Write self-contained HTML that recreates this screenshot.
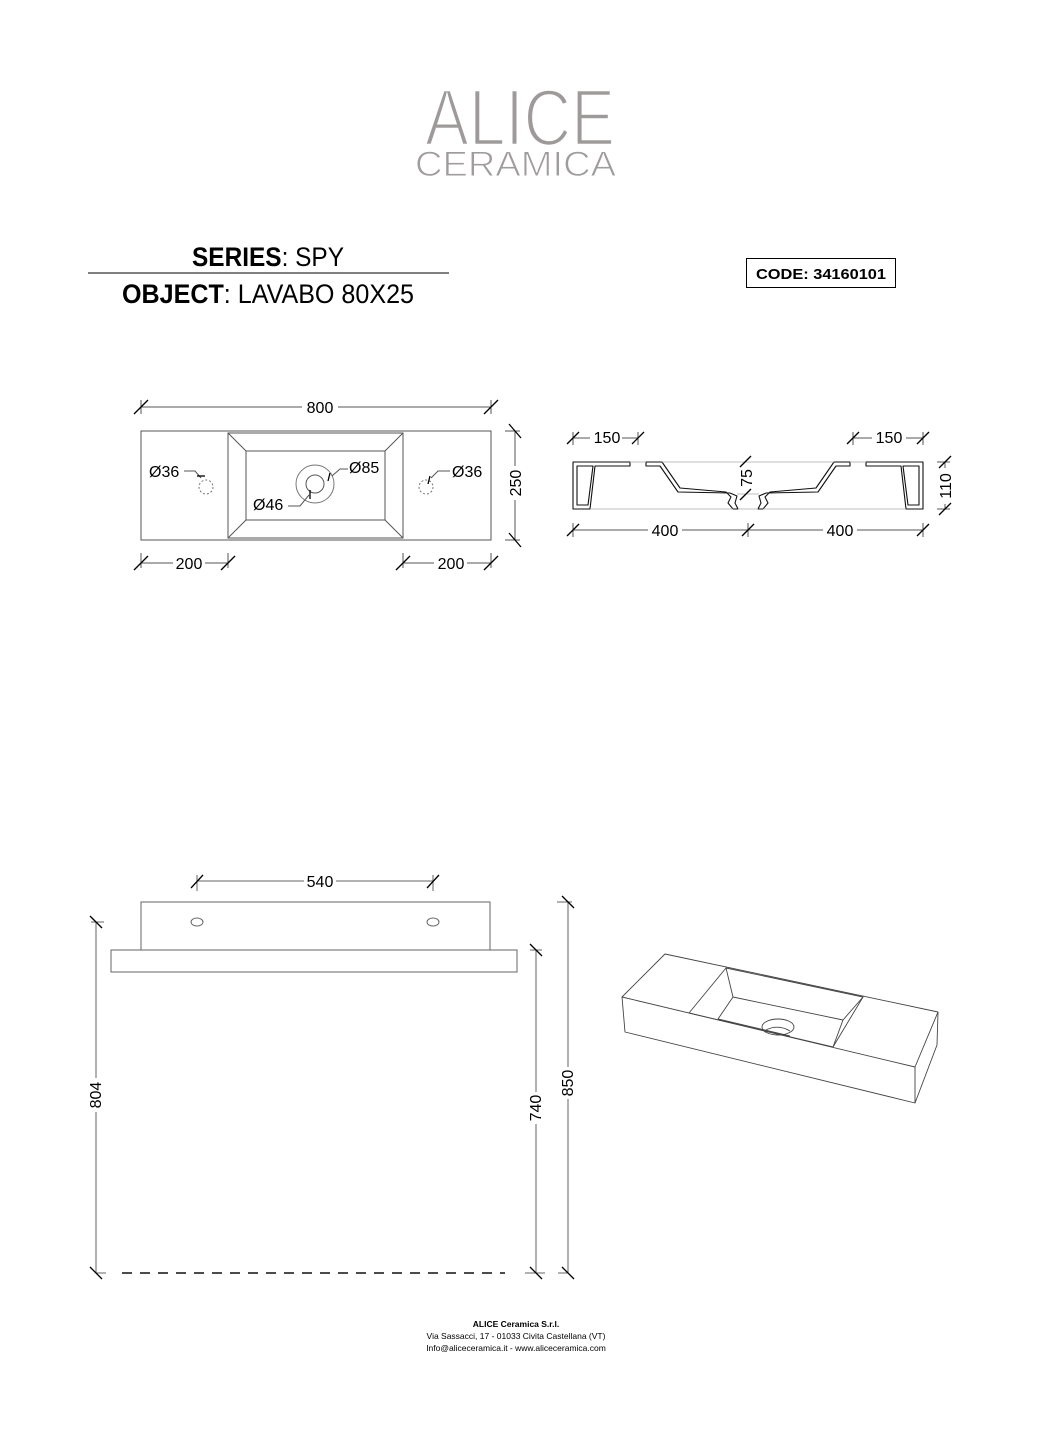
<!DOCTYPE html>
<html><head><meta charset="utf-8"><style>
html,body{margin:0;padding:0;background:#fff;}
svg{display:block;}
text{font-family:"Liberation Sans",sans-serif;}
</style></head><body>
<svg width="1040" height="1440" viewBox="0 0 1040 1440" xmlns="http://www.w3.org/2000/svg">
<text x="425" y="145" font-size="80" fill="#9e9a9a" textLength="190" lengthAdjust="spacingAndGlyphs" stroke="#fff" stroke-width="2.6">ALICE</text>
<text x="415" y="176" font-size="35" fill="#a09c9c" textLength="201" lengthAdjust="spacingAndGlyphs" stroke="#fff" stroke-width="1">CERAMICA</text>

<text x="268" y="266" font-size="27" text-anchor="middle" fill="#000" textLength="152" lengthAdjust="spacingAndGlyphs"><tspan font-weight="bold">SERIES</tspan>: SPY</text>
<line x1="88" y1="273" x2="449" y2="273" stroke="#000" stroke-width="1"/>
<text x="268" y="303" font-size="27" text-anchor="middle" fill="#000" textLength="292" lengthAdjust="spacingAndGlyphs"><tspan font-weight="bold">OBJECT</tspan>: LAVABO 80X25</text>
<rect x="746.5" y="258.5" width="149" height="29" fill="none" stroke="#000" stroke-width="1"/>
<text x="821" y="279" font-size="15" font-weight="bold" text-anchor="middle" textLength="130" lengthAdjust="spacingAndGlyphs">CODE: 34160101</text>

<g stroke="#555" stroke-width="1" fill="none">
<rect x="141" y="431" width="350" height="109"/>
<rect x="228" y="433" width="175" height="105"/>
<rect x="246" y="451" width="139" height="69"/>
<line x1="228" y1="433" x2="246" y2="451"/><line x1="403" y1="433" x2="385" y2="451"/>
<line x1="228" y1="538" x2="246" y2="520"/><line x1="403" y1="538" x2="385" y2="520"/>
<circle cx="315" cy="484" r="19" stroke="#777"/><circle cx="315" cy="484" r="9"/>
<circle cx="206" cy="487" r="7" stroke-dasharray="2,2" stroke="#777"/>
<circle cx="426" cy="487" r="7" stroke-dasharray="2,2" stroke="#777"/>
<line x1="141" y1="407" x2="302" y2="407"/><line x1="338" y1="407" x2="491" y2="407"/>
<line x1="141" y1="400" x2="141" y2="414"/><line x1="491" y1="400" x2="491" y2="414"/>
<line x1="515" y1="431" x2="515" y2="466"/><line x1="515" y1="500" x2="515" y2="540"/>
<line x1="505" y1="431" x2="520" y2="431"/><line x1="505" y1="540" x2="520" y2="540"/>
<line x1="141" y1="563" x2="173" y2="563"/><line x1="205" y1="563" x2="228" y2="563"/>
<line x1="141" y1="553" x2="141" y2="568"/><line x1="228" y1="553" x2="228" y2="568"/>
<line x1="403" y1="563" x2="434" y2="563"/><line x1="467" y1="563" x2="491" y2="563"/>
<line x1="403" y1="553" x2="403" y2="568"/><line x1="491" y1="553" x2="491" y2="568"/>
<polyline points="184,471 195,471 201,478"/>
<polyline points="288,506 300,506 309,495"/>
<polyline points="348,469 340,469 332,476"/>
<polyline points="450,471 438,471 431,478"/>
</g>
<g stroke="#000" stroke-width="1.3">
<line x1="134" y1="414" x2="148" y2="400"/><line x1="484" y1="414" x2="498" y2="400"/>
<line x1="509" y1="424" x2="521" y2="438"/><line x1="509" y1="533" x2="521" y2="547"/>
<line x1="134" y1="570" x2="148" y2="556"/><line x1="221" y1="570" x2="235" y2="556"/>
<line x1="396" y1="570" x2="410" y2="556"/><line x1="484" y1="570" x2="498" y2="556"/>
<line x1="197" y1="476" x2="205" y2="476"/>
<line x1="310" y1="490" x2="310" y2="499"/>
<line x1="330" y1="473" x2="328" y2="481"/>
<line x1="430" y1="476" x2="428" y2="484"/>
</g>
<g font-size="16" fill="#000">
<text x="320" y="413" text-anchor="middle">800</text>
<text x="521" y="483" text-anchor="middle" transform="rotate(-90 521 483)">250</text>
<text x="189" y="569" text-anchor="middle">200</text>
<text x="451" y="569" text-anchor="middle">200</text>
<text x="149" y="477">Ø36</text>
<text x="452" y="477">Ø36</text>
<text x="349" y="473">Ø85</text>
<text x="253" y="510">Ø46</text>
</g>

<g stroke="#111" stroke-width="1.1" fill="none" stroke-linejoin="round">
<path d="M573,462 L630,462 L630,466 L595,466 L590,509 L573,509 Z"/>
<path d="M577,466 L593,466 L588,505 L577,505 Z"/>
<path d="M923,462 L866,462 L866,466 L901,466 L906,509 L923,509 Z"/>
<path d="M919,466 L903,466 L908,505 L919,505 Z"/>
<path d="M646,462 L662,462 L680,488 L726,492 L731,497 L728,503 L733,509 L738,509 L735,503 L737,496 L730,493 L678,492 L660,466 L646,466 Z"/>
<path d="M850,462 L834,462 L816,488 L770,492 L765,497 L768,503 L763,509 L758,509 L761,503 L759,496 L766,493 L818,492 L836,466 L850,466 Z"/>
</g>
<g stroke="#aaa" stroke-width="0.8">
<line x1="630" y1="462" x2="646" y2="462"/><line x1="850" y1="462" x2="866" y2="462"/>
<line x1="738" y1="509" x2="758" y2="509"/>
<line x1="737" y1="494" x2="759" y2="494"/>
<line x1="662" y1="462" x2="834" y2="462"/>
<line x1="590" y1="509" x2="733" y2="509"/><line x1="763" y1="509" x2="906" y2="509"/>
</g>
<g stroke="#555" stroke-width="1" fill="none">
<line x1="573" y1="438" x2="590" y2="438"/><line x1="622" y1="438" x2="638" y2="438"/>
<line x1="573" y1="432" x2="573" y2="445"/><line x1="638" y1="432" x2="638" y2="445"/>
<line x1="853" y1="438" x2="872" y2="438"/><line x1="906" y1="438" x2="923" y2="438"/>
<line x1="853" y1="432" x2="853" y2="445"/><line x1="923" y1="432" x2="923" y2="445"/>
<line x1="573" y1="530" x2="648" y2="530"/><line x1="682" y1="530" x2="823" y2="530"/><line x1="857" y1="530" x2="923" y2="530"/>
<line x1="573" y1="523" x2="573" y2="537"/><line x1="748" y1="523" x2="748" y2="537"/><line x1="923" y1="523" x2="923" y2="537"/>
<line x1="945" y1="462" x2="945" y2="468"/><line x1="945" y1="504" x2="945" y2="509"/>
<line x1="937" y1="462" x2="950" y2="462"/><line x1="937" y1="509" x2="950" y2="509"/>
</g>
<g stroke="#000" stroke-width="1.3">
<line x1="567" y1="444" x2="579" y2="432"/><line x1="632" y1="444" x2="644" y2="432"/>
<line x1="847" y1="444" x2="859" y2="432"/><line x1="917" y1="444" x2="929" y2="432"/>
<line x1="567" y1="536" x2="579" y2="524"/><line x1="742" y1="536" x2="754" y2="524"/><line x1="917" y1="536" x2="929" y2="524"/>
<line x1="939" y1="468" x2="951" y2="456"/><line x1="939" y1="515" x2="951" y2="503"/>
<line x1="740" y1="467" x2="751" y2="456"/><line x1="740" y1="500" x2="751" y2="489"/>
</g>
<g font-size="16" fill="#000">
<text x="607" y="443" text-anchor="middle">150</text>
<text x="889" y="443" text-anchor="middle">150</text>
<text x="665" y="536" text-anchor="middle">400</text>
<text x="840" y="536" text-anchor="middle">400</text>
<text x="752" y="478" text-anchor="middle" transform="rotate(-90 752 478)">75</text>
<text x="951" y="486" text-anchor="middle" transform="rotate(-90 951 486)">110</text>
</g>

<g stroke="#666" stroke-width="1" fill="none">
<rect x="141" y="902" width="349" height="48"/>
<rect x="111" y="950" width="406" height="22"/>
<ellipse cx="197" cy="922" rx="6" ry="4"/>
<ellipse cx="433" cy="922" rx="6" ry="4"/>
<line x1="197" y1="881" x2="304" y2="881"/><line x1="336" y1="881" x2="433" y2="881"/>
<line x1="197" y1="875" x2="197" y2="891"/><line x1="433" y1="875" x2="433" y2="891"/>
<line x1="96" y1="922" x2="96" y2="1078"/><line x1="96" y1="1112" x2="96" y2="1273"/>
<line x1="536" y1="950" x2="536" y2="1092"/><line x1="536" y1="1124" x2="536" y2="1273"/>
<line x1="568" y1="902" x2="568" y2="1067"/><line x1="568" y1="1099" x2="568" y2="1273"/>
<line x1="96" y1="1273" x2="106" y2="1273"/><line x1="525" y1="1273" x2="545" y2="1273"/><line x1="558" y1="1273" x2="568" y2="1273"/>
<line x1="91" y1="922" x2="104" y2="922"/><line x1="530" y1="950" x2="542" y2="950"/><line x1="557" y1="902" x2="572" y2="902"/>
</g>
<line x1="122" y1="1273" x2="505" y2="1273" stroke="#111" stroke-width="1.4" stroke-dasharray="10,8"/>
<g stroke="#000" stroke-width="1.3">
<line x1="191" y1="888" x2="203" y2="875"/><line x1="427" y1="888" x2="439" y2="875"/>
<line x1="90" y1="916" x2="102" y2="928"/><line x1="530" y1="944" x2="542" y2="956"/><line x1="562" y1="896" x2="574" y2="908"/>
<line x1="90" y1="1267" x2="102" y2="1279"/><line x1="530" y1="1267" x2="542" y2="1279"/><line x1="562" y1="1267" x2="574" y2="1279"/>
</g>
<g font-size="16" fill="#000">
<text x="320" y="887" text-anchor="middle">540</text>
<text x="101" y="1095" text-anchor="middle" transform="rotate(-90 101 1095)">804</text>
<text x="541" y="1108" text-anchor="middle" transform="rotate(-90 541 1108)">740</text>
<text x="573" y="1083" text-anchor="middle" transform="rotate(-90 573 1083)">850</text>
</g>

<g stroke="#444" stroke-width="0.9" fill="none" stroke-linejoin="round">
<path d="M665,954 L938,1012 L915,1067 L622,997 Z"/>
<path d="M622,997 L625,1032 L915,1103 L915,1067"/>
<path d="M938,1012 L937,1045 L915,1103"/>
<path d="M726,968 L863,997 L833,1047 L689,1013 Z"/>
<path d="M726,968 L733,997 L843,1020 L863,997"/>
<path d="M733,997 L718,1019"/>
<path d="M843,1020 L833,1047"/>
<path d="M718,1019 L790,1036"/>
<ellipse cx="778" cy="1027" rx="16" ry="8"/>
<path d="M766,1030 Q778,1024 790,1031"/>
</g>

<g font-size="8.5" text-anchor="middle" fill="#000">
<text x="516" y="1327" font-weight="bold">ALICE Ceramica S.r.l.</text>
<text x="516" y="1339">Via Sassacci, 17 - 01033 Civita Castellana (VT)</text>
<text x="516" y="1351">Info@aliceceramica.it - www.aliceceramica.com</text>
</g>
</svg>
</body></html>
